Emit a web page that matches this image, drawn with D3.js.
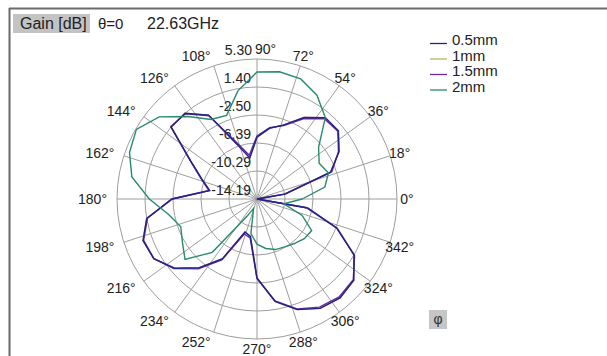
<!DOCTYPE html>
<html>
<head>
<meta charset="utf-8">
<script src="https://cdn.jsdelivr.net/npm/d3@7"></script>
<style>
  body { margin: 0; background: #fff; }
  svg { font-family: "Liberation Sans", Arial, sans-serif; }
</style>
</head>
<body>
<script>
var width = 607, height = 356;

// phi angles (deg) and gain (dB) per series
var phi = [0, 10, 20, 30, 40, 50, 60, 70, 80, 90, 100, 110, 120, 130, 140, 150, 160, 170,
           180, 190, 200, 210, 220, 230, 240, 250, 260, 270, 280, 290, 300, 310, 320, 330, 340, 350];
var gain05 = [-17, -10.3, -3.3, -1.0, 0.6, 0.6, -1.1, -3.2, -4.2, -5.6, -8.4, -6.1, -0.7, 1.4, 1.4, -3.5, -6.0, -7.5,
              -2.4, 1.4, 2.7, 2.4, 0.8, -1.7, -4.6, -9.3, -8.9, -3.2, 0.3, 2.2, 3.4, 3.8, 3.4, 1.4, -2.4, -7.2];
var gain1 = [-17, -10.3, -3.3, -1.0, 0.6, 0.6, -1.1, -3.2, -4.2, -5.6, -8.4, -6.1, -0.7, 1.4, 1.4, -3.5, -6.0, -7.5,
             -2.4, 1.4, 2.7, 2.4, 0.8, -1.7, -4.6, -9.3, -8.9, -3.2, 0.3, 2.2, 3.4, 3.8, 3.4, 1.4, -2.4, -7.2];
var gain15 = [-17, -10.1, -3.1, -1.1, 0.5, 0.4, -1.3, -3.3, -4.1, -5.4, -8.0, -5.8, -0.8, 1.3, 1.5, -3.4, -5.9, -7.4,
              -2.3, 1.3, 2.6, 2.4, 0.9, -1.5, -4.4, -9.0, -8.7, -3.1, 0.2, 2.1, 3.2, 3.6, 3.3, 1.5, -2.3, -7.0];
var gain2 = [-7.9, -4.6, -3.6, -4.2, -3.0, 0.6, 2.5, 3.6, 3.8, 3.5, 1.1, -1.8, -1.4, 0.8, 3.6, 5.2, 4.7, 3.5,
             0.8, -1.7, -2.9, -2.2, -1.1, -4.5, -11.4, -12.8, -9.3, -7.9, -7.2, -6.7, -6.5, -6.1, -5.6, -5.4, -7.5, -10.4];

var seriesNames = ["0.5mm", "1mm", "1.5mm", "2mm"];
var seriesColors = ["#22228a", "#b4b46a", "#6e2a9c", "#2a8a6c"];
var ringTicks = [-14.19, -10.29, -6.39, -2.50, 1.40, 5.30];
var ringLabels = ["-14.19", "-10.29", "-6.39", "-2.50", "1.40", "5.30"];
var angleTicks = [0, 18, 36, 54, 72, 90, 108, 126, 144, 162, 180, 198, 216, 234, 252, 270, 288, 306, 324, 342];

var cx = 257, cy = 199, R = 140;

var svg = d3.select("body").append("svg")
    .attr("width", width)
    .attr("height", height);

// frame
svg.append("line").attr("x1", 9).attr("y1", 8.5).attr("x2", width).attr("y2", 8.5)
    .attr("stroke", "#6a6a6a").attr("stroke-width", 2);
svg.append("line").attr("x1", 9.5).attr("y1", 8).attr("x2", 9.5).attr("y2", height)
    .attr("stroke", "#6a6a6a").attr("stroke-width", 2);

// header
svg.append("rect").attr("x", 13).attr("y", 14).attr("width", 77).attr("height", 19).attr("fill", "#c3c3c3");
svg.append("text").attr("x", 20).attr("y", 29).attr("font-size", 16).attr("fill", "#222").text("Gain [dB]");
svg.append("text").attr("x", 98).attr("y", 29).attr("font-size", 15).attr("fill", "#222").text("\u03b8=0");
svg.append("text").attr("x", 147).attr("y", 29).attr("font-size", 16).attr("fill", "#222").text("22.63GHz");

var r = d3.scaleLinear().domain([-14.19, 5.30]).range([0, R]).clamp(true);
// radial angle: clockwise from 12 o'clock, phi runs counter-clockwise from 3 o'clock
var a = d3.scaleLinear().domain([0, 360]).range([Math.PI / 2, Math.PI / 2 - 2 * Math.PI]);

var g = svg.append("g").attr("transform", "translate(" + cx + "," + cy + ")");

// rings
g.selectAll(".ring")
    .data(ringTicks.slice(1))
    .enter().append("circle")
    .attr("r", function(d) { return r(d); })
    .attr("fill", "none")
    .attr("stroke", "#9e9e9e")
    .attr("stroke-width", 1);

// spokes
g.selectAll(".spoke")
    .data(angleTicks)
    .enter().append("line")
    .attr("x1", 0).attr("y1", 0)
    .attr("x2", function(d) { return R * Math.cos(d * Math.PI / 180); })
    .attr("y2", function(d) { return -R * Math.sin(d * Math.PI / 180); })
    .attr("stroke", "#9e9e9e")
    .attr("stroke-width", 1);

// angle labels
g.selectAll(".alab")
    .data(angleTicks)
    .enter().append("text")
    .attr("font-size", 14)
    .attr("fill", "#222")
    .attr("dominant-baseline", "central")
    .attr("text-anchor", function(d) {
        if (d === 90) return "start";
        var c = Math.cos(d * Math.PI / 180);
        return c < -0.05 ? "end" : "middle";
    })
    .attr("x", function(d) {
        if (d === 90) return -2;
        return 150 * Math.cos(d * Math.PI / 180);
    })
    .attr("y", function(d) {
        var s = Math.sin(d * Math.PI / 180);
        return s < 0 ? -148 * s + 2 : -150 * s;
    })
    .text(function(d) { return d + "\u00b0"; });

// ring labels
g.selectAll(".rlab")
    .data(ringTicks)
    .enter().append("text")
    .attr("font-size", 14)
    .attr("fill", "#222")
    .attr("text-anchor", "end")
    .attr("x", function(d, i) { return i === ringTicks.length - 1 ? -5 : -6; })
    .attr("y", function(d) { return -r(d) - 4; })
    .text(function(d, i) { return ringLabels[i]; });

// traces, 0.5mm drawn over the others
var series = [gain05, gain1, gain15, gain2];
var line = d3.lineRadial()
    .angle(function(d) { return a(d.phi); })
    .radius(function(d) { return r(d.g); })
    .curve(d3.curveLinearClosed);

[1, 2, 0, 3].forEach(function(k) {
    var pts = phi.map(function(p, i) { return {phi: p, g: series[k][i]}; });
    g.append("path")
        .attr("d", line(pts))
        .attr("fill", "none")
        .attr("stroke", seriesColors[k])
        .attr("stroke-width", 1.4);
});

// legend
var legend = svg.append("g").attr("transform", "translate(430,45)");
var item = legend.selectAll(".item")
    .data(seriesNames)
    .enter().append("g")
    .attr("transform", function(d, i) { return "translate(0," + i * 15.5 + ")"; });
item.append("line")
    .attr("x1", 0).attr("x2", 17).attr("y1", -1.5).attr("y2", -1.5)
    .attr("stroke", function(d, i) { return seriesColors[i]; })
    .attr("stroke-width", 1.3);
item.append("text")
    .attr("x", 22).attr("y", 0)
    .attr("font-size", 15)
    .attr("fill", "#222")
    .text(function(d) { return d; });

// phi marker
svg.append("rect").attr("x", 429).attr("y", 310).attr("width", 18).attr("height", 19).attr("fill", "#c6c6c6");
svg.append("text").attr("x", 438).attr("y", 324).attr("text-anchor", "middle")
    .attr("font-size", 14).attr("fill", "#333").text("\u03c6");
</script>
</body>
</html>
